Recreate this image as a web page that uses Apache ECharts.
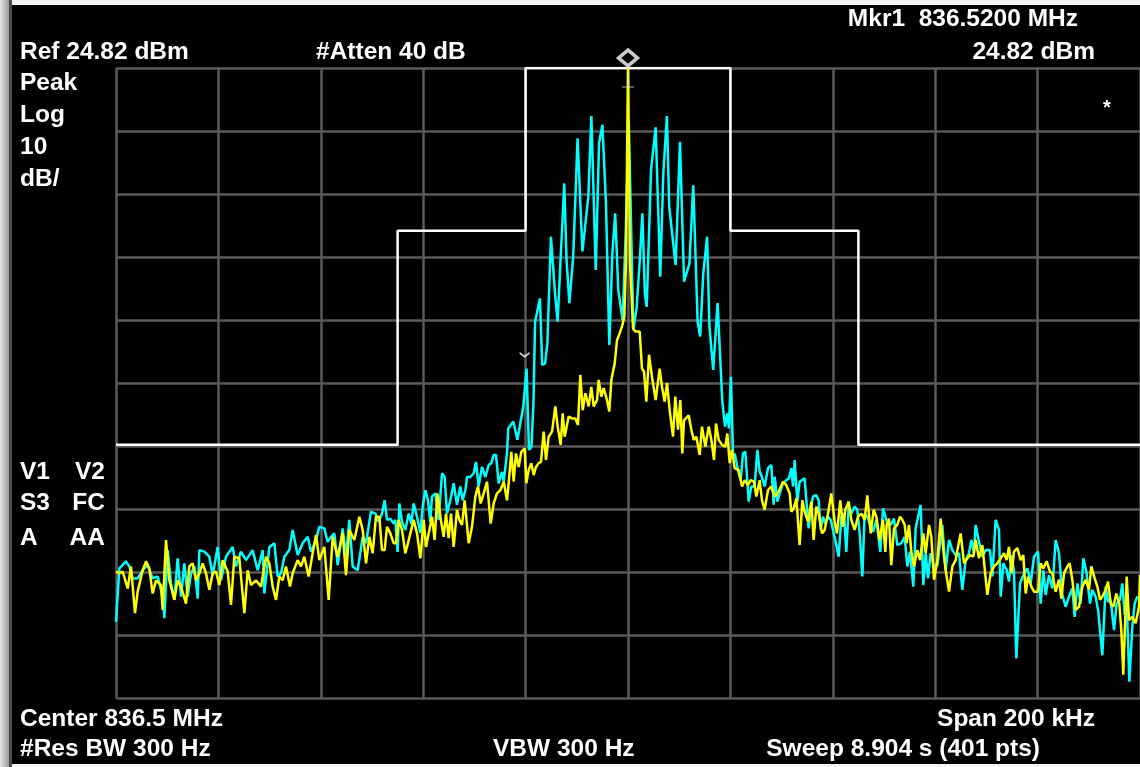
<!DOCTYPE html>
<html>
<head>
<meta charset="utf-8">
<script src="https://cdn.jsdelivr.net/npm/echarts@6/dist/echarts.min.js"></script>
<style>
html,body{margin:0;padding:0;background:#000;}
#chart{width:1140px;height:767px;}
</style>
</head>
<body>
<div id="chart"></div>
<script>
// Frequency offset from centre (kHz) and level (dBm)
var refLevel = 24.82;
var dbPerDiv = 10;
var spanKHz = 200;

var maskFreq = [-100, -45, -45, -20, -20, 20, 20, 45, 45, 100];
var maskLevel = [-35, -35, -1, -1, 24.82, 24.82, -1, -1, -35, -35];

var traceCyan = [
[-100,-63.1],[-99.35,-54.6],[-98.05,-53.5],[-97.4,-54.3],[-96.74,-56.2],[-95.77,-56.2],[-94.79,-54.9],[-93.82,-54.1],[-92.84,-56.2],[-91.86,-55.9],[-90.89,-59.1],[-90.56,-62.5],[-89.91,-51.7],[-89.26,-57.0],[-88.6,-59.6],[-87.96,-53.0],[-87.3,-59.1],[-86.65,-53.8],[-86.0,-59.1],[-85.35,-55.4],[-84.7,-54.3],[-84.05,-59.4],[-83.72,-51.7],[-82.75,-51.95],[-81.77,-52.75],[-81.12,-55.7],[-80.14,-51.2],[-79.49,-56.5],[-78.52,-52.75],[-77.21,-51.2],[-76.56,-54.3],[-75.59,-51.95],[-74.61,-53.3],[-73.31,-51.7],[-72.33,-54.9],[-71.35,-51.7],[-71.03,-58.6],[-70.05,-51.2],[-69.08,-50.6],[-68.42,-55.9],[-67.77,-55.4],[-67.12,-52.75],[-66.15,-51.7],[-65.5,-48.5],[-64.52,-52.5],[-63.54,-50.6],[-62.57,-49.6],[-61.91,-51.95],[-60.94,-50.1],[-60.29,-48.0],[-59.31,-48.25],[-58.66,-50.4],[-58.0,-49.6],[-57.36,-49.05],[-56.7,-54.1],[-55.73,-48.25],[-55.08,-52.75],[-54.43,-46.9],[-53.78,-54.3],[-52.8,-54.9],[-51.82,-49.6],[-51.17,-50.6],[-50.2,-45.6],
[-49.35,-45.9],[-48.7,-47.2],[-48.05,-45.9],[-47.53,-43.8],[-47.07,-46.9],[-46.42,-46.7],[-45.77,-47.5],[-45.44,-46.9],[-44.99,-52.0],[-44.66,-44.3],[-44.14,-47.2],[-43.49,-48.5],[-42.84,-45.9],[-42.32,-47.5],[-41.86,-44.3],[-41.21,-46.4],[-40.56,-49.0],[-40.1,-44.8],[-39.58,-42.2],[-39.06,-43.8],[-38.61,-47.2],[-38.28,-43.2],[-37.63,-42.7],[-36.98,-46.9],[-36.33,-39.5],[-35.81,-40.1],[-35.35,-45.9],[-34.7,-43.8],[-34.05,-41.1],[-33.4,-44.5],[-32.75,-41.6],[-32.29,-43.8],[-31.77,-42.2],[-31.45,-40.1],[-30.79,-40.1],[-30.14,-39.5],[-29.69,-37.7],[-29.17,-41.6],[-28.52,-38.5],[-27.86,-40.1],[-27.21,-38.2],[-26.69,-37.9],[-26.24,-36.6],[-25.78,-36.6],[-25.26,-41.1],[-24.61,-39.3],[-24.28,-40.8],[-23.63,-36.3],
[-23.4,-32.4],[-22.4,-31.3],[-21.6,-34.2],[-20.45,-28.9],[-19.8,-22.9],[-19.35,-35.8],[-18.85,-35.3],[-18.45,-27.9],[-18.15,-15.45],[-17.2,-11.75],[-16.75,-22.3],[-16.2,-22.1],[-15.75,-18.9],[-15.05,-1.96],[-14.25,-10.95],[-13.75,-15.45],[-12.45,6.5],[-12.0,-5.7],[-11.45,-12.5],[-10.7,-5.1],[-9.85,13.65],[-8.9,-4.3],[-7.75,4.4],[-7.15,17.2],[-6.3,-7.25],[-5.65,12.9],[-5.0,15.8],[-4.3,3.3],[-3.65,-19.15],[-3.05,-4.6],[-2.5,1.75],[-1.9,-10.4],[-1.05,-15.2],[-0.45,-1.4],[0.15,16.6],[1.05,-16.8],[1.7,-13.1],[2.35,-5.1],[2.8,1.75],[3.3,-10.95],[3.65,-13.1],[4.5,8.6],[5.4,15.4],[6.3,-8.3],[6.9,8.1],[7.6,17.2],[8.05,2.8],[9.3,-6.45],[10.15,13.1],[10.95,-9.1],[12.0,-6.2],[12.75,6.2],[13.6,-15.45],[14.1,-17.8],[14.7,-7.8],[15.45,-1.96],[15.9,-16.2],[16.65,-23.1],[17.5,-12.5],[18.4,-27.9],[18.95,-32.1],[19.4,-30.0],[19.7,-32.4],[20.1,-24.2],[20.55,-37.4],
[20.83,-36.35],[21.48,-39.0],[22.0,-40.6],[22.46,-36.35],[22.92,-36.1],[23.57,-44.0],[24.09,-41.6],[24.74,-41.6],[25.26,-35.8],[25.72,-39.25],[26.04,-39.8],[26.69,-41.6],[27.34,-38.7],[28.0,-38.2],[28.45,-44.5],[28.65,-40.05],[29.17,-44.0],[29.62,-42.7],[30.27,-41.1],[30.92,-40.6],[31.45,-40.3],[31.9,-38.7],[32.23,-41.6],[32.55,-37.4],[33.07,-44.0],[33.53,-40.85],[33.85,-40.6],[34.5,-40.3],[34.83,-43.8],[35.29,-48.25],[35.68,-45.3],[36.13,-43.2],[36.78,-43.0],[37.24,-43.8],[37.63,-48.5],[38.09,-46.4],[38.54,-47.5],[39.06,-46.4],[39.58,-46.9],[40.04,-48.5],[40.69,-50.9],[41.15,-52.75],[41.67,-46.4],[42.19,-45.9],[42.64,-52.0],[43.1,-44.8],[43.62,-45.9],[44.27,-44.8],[44.79,-45.3],[45.25,-49.05],[45.77,-55.9],[46.22,-45.9],[46.74,-46.4],[47.2,-47.5],[47.85,-48.8],[48.5,-46.9],[49.28,-52.0],[49.8,-45.1],
[50.0,-45.6],[50.65,-47.5],[51.3,-47.7],[51.95,-46.7],[52.6,-50.9],[53.39,-50.6],[54.04,-49.6],[54.56,-54.3],[55.08,-51.95],[55.73,-57.5],[56.18,-48.25],[57.16,-44.55],[57.68,-57.25],[58.14,-52.2],[58.59,-56.2],[59.11,-52.2],[59.77,-54.3],[60.42,-54.1],[61.39,-47.7],[62.04,-54.9],[62.7,-50.1],[63.35,-51.7],[64.0,-52.5],[64.65,-52.2],[65.3,-58.0],[65.95,-53.3],[66.6,-52.2],[67.06,-50.1],[67.58,-52.2],[67.9,-47.7],[68.55,-50.4],[69.21,-52.75],[69.86,-51.7],[70.7,-51.7],[71.16,-55.9],[71.81,-46.9],[72.46,-48.5],[72.79,-59.1],[73.31,-53.8],[73.96,-54.9],[74.41,-56.7],[74.93,-52.5],[75.39,-55.1],[75.85,-68.9],[76.56,-57.0],[77.34,-55.4],[78.0,-54.6],[78.65,-57.0],[79.3,-52.75],[80.08,-51.95],[80.6,-60.2],[81.12,-54.9],[81.58,-58.8],[82.23,-55.7],[82.88,-57.8],[83.53,-50.1],[84.18,-52.2],[84.83,-58.8],[85.48,-60.7],[86.13,-59.1],[86.78,-57.8],[87.24,-62.3],[87.76,-57.0],[88.41,-60.2],[88.93,-53.0],[89.58,-55.4],[90.23,-60.2],[90.69,-58.0],[91.34,-59.1],[91.86,-61.5],[92.64,-68.4],[93.29,-57.5],[93.75,-59.9],[94.27,-59.6],[94.92,-64.4],[95.44,-60.2],[96.09,-59.6],[96.55,-57.0],[97.01,-62.0],[97.4,-59.9],[97.92,-72.6],[98.5,-63.9],[98.96,-60.2],[99.48,-59.1],[100,-59.6]
];

var traceYellow = [
[-100,-55.1],[-99.35,-55.4],[-98.7,-55.1],[-97.72,-57.8],[-97.07,-54.3],[-96.29,-61.7],[-95.77,-58.3],[-94.79,-54.9],[-94.14,-53.5],[-93.49,-54.6],[-92.84,-58.6],[-92.19,-56.5],[-91.21,-57.25],[-90.89,-61.2],[-90.23,-50.1],[-89.58,-56.5],[-88.61,-59.6],[-87.96,-56.5],[-87.3,-57.5],[-86.33,-60.2],[-85.68,-54.3],[-85.03,-53.8],[-84.37,-56.5],[-83.72,-55.4],[-83.07,-53.8],[-82.42,-55.4],[-81.77,-58.0],[-81.12,-55.4],[-80.47,-55.1],[-79.82,-57.25],[-79.17,-53.3],[-78.19,-55.1],[-77.54,-60.4],[-76.89,-52.75],[-75.91,-53.0],[-74.93,-61.7],[-74.28,-54.9],[-73.63,-57.25],[-72.66,-56.5],[-71.68,-57.5],[-70.7,-52.75],[-70.05,-53.8],[-69.4,-57.5],[-68.75,-59.6],[-68.1,-55.9],[-67.45,-56.5],[-66.8,-54.3],[-66.02,-57.5],[-65.5,-55.4],[-64.52,-53.3],[-63.87,-54.3],[-63.22,-52.75],[-62.37,-55.9],[-61.59,-52.2],[-60.94,-49.3],[-60.29,-53.3],[-59.31,-51.2],[-58.46,-59.6],[-57.68,-49.6],[-56.71,-52.75],[-55.73,-49.0],[-55.08,-55.7],[-54.43,-48.5],[-53.45,-50.1],[-52.47,-46.4],[-51.82,-48.5],[-51.17,-53.8],[-50.52,-49.6],
[-49.87,-52.2],[-49.22,-46.4],[-48.57,-46.4],[-48.05,-51.7],[-47.53,-51.7],[-47.07,-48.0],[-46.42,-49.05],[-45.77,-50.6],[-45.31,-50.6],[-44.79,-46.9],[-44.14,-48.5],[-43.49,-52.2],[-42.97,-50.6],[-42.51,-49.05],[-41.86,-46.9],[-41.21,-49.05],[-40.56,-53.0],[-39.91,-46.9],[-39.45,-51.2],[-38.93,-49.05],[-38.28,-46.4],[-37.76,-50.1],[-37.24,-42.7],[-36.65,-46.4],[-36.0,-49.6],[-35.55,-45.9],[-35.03,-49.8],[-34.57,-45.9],[-34.05,-51.2],[-33.4,-45.3],[-32.94,-46.9],[-32.42,-47.7],[-31.9,-43.8],[-31.12,-50.6],[-30.47,-48.0],[-29.82,-43.2],[-29.3,-41.6],[-28.78,-44.3],[-28.19,-42.7],[-27.54,-40.85],[-26.82,-47.5],[-26.24,-44.3],[-25.59,-42.7],[-24.93,-42.2],[-24.28,-40.85],[-23.63,-43.8],[-23.31,-41.1],[-22.79,-36.1],[-22.33,-40.85],[-21.88,-36.35],[-21.35,-38.5],[-20.83,-36.1],[-20.18,-35.55],[-19.86,-41.1],[-19.4,-39.0],[-18.88,-37.9],[-18.42,-39.8],[-17.97,-38.5],[-17.45,-37.9],[-16.99,-37.7],[-16.47,-32.9],[-16.02,-37.4],[-15.49,-33.7],[-14.84,-32.9],[-14.19,-28.9],[-13.74,-32.1],[-13.15,-35.0],[-12.76,-30.0],[-12.37,-33.7],[-11.59,-30.5],[-10.94,-30.8],[-10.29,-30.8],[-9.77,-31.85],[-9.31,-23.9],[-8.85,-29.5],[-8.33,-26.8],[-7.68,-28.9],[-7.16,-25.8],[-6.71,-28.9],[-6.05,-27.9],[-5.73,-24.7],[-5.21,-27.35],[-4.75,-26.0],[-4.1,-27.9],[-3.65,-29.7],[-3.26,-24.7],[-2.6,-22.1],[-2.15,-18.4],[-1.63,-17.3],[-1.17,-16.2],[-0.72,-14.7],
[-0.4,-6],[0,24.82],[0.4,-6],
[0.98,-16.5],[1.43,-17.0],[2.28,-17.0],[2.73,-22.9],[3.13,-23.4],[3.58,-28.15],[4.1,-20.7],[4.69,-24.2],[5.4,-27.9],[6.18,-22.9],[6.64,-25.8],[7.16,-28.15],[7.62,-25.2],[8.14,-29.5],[8.79,-33.7],[9.24,-27.35],[9.77,-32.6],[10.22,-27.9],[10.61,-36.35],[10.94,-31.1],[11.85,-30.3],[12.37,-32.6],[12.83,-34.2],[13.35,-33.7],[14.0,-36.6],[14.45,-32.1],[15.1,-35.3],[15.76,-32.1],[16.28,-34.2],[16.8,-37.4],[17.19,-31.6],[17.71,-34.2],[18.36,-35.0],[19.01,-35.3],[19.4,-33.2],[19.86,-37.9],[20.31,-35.8],[20.83,-38.7],[21.61,-39.0],[22.27,-41.6],[22.79,-40.6],[23.44,-41.4],[23.96,-40.6],[24.61,-40.85],[25.07,-43.2],[25.72,-40.6],[26.17,-43.8],[26.69,-45.3],[27.34,-42.2],[28.0,-41.6],[28.65,-43.2],[29.43,-42.4],[30.27,-40.85],[30.92,-41.4],[31.58,-42.7],[31.9,-45.6],[32.36,-45.1],[32.88,-43.5],[33.53,-50.9],[34.05,-43.8],[34.5,-45.6],[35.16,-47.2],[35.81,-44.0],[36.26,-50.1],[36.78,-44.8],[37.24,-45.9],[37.89,-49.05],[38.41,-48.5],[39.06,-45.9],[39.71,-42.7],[40.36,-47.2],[40.82,-49.05],[41.47,-43.8],[41.99,-48.0],[42.45,-45.3],[43.1,-44.0],[43.62,-46.9],[44.27,-48.5],[44.92,-46.4],[45.57,-45.9],[46.22,-46.9],[46.74,-43.0],[47.4,-49.05],[47.98,-45.3],[48.5,-46.4],[49.15,-50.1],[49.8,-46.9],[50.26,-52.0],
[50.52,-47.7],[50.98,-46.7],[51.43,-54.1],[51.95,-48.25],[52.6,-47.7],[53.13,-46.4],[53.58,-46.9],[54.04,-47.7],[54.43,-50.6],[54.88,-47.7],[55.34,-51.95],[55.86,-54.3],[56.51,-51.7],[57.03,-53.3],[57.68,-49.05],[58.14,-52.2],[58.79,-47.7],[59.24,-49.6],[59.77,-56.4],[60.42,-53.3],[61.07,-46.7],[61.59,-51.7],[62.04,-54.9],[62.7,-58.3],[63.35,-54.3],[64.0,-53.3],[64.45,-51.2],[64.97,-49.05],[65.63,-53.8],[66.28,-53.0],[66.8,-52.5],[67.45,-52.75],[67.9,-50.1],[68.55,-53.0],[69.21,-50.9],[70.18,-58.8],[70.83,-55.4],[71.48,-54.3],[72.14,-53.8],[72.79,-53.0],[73.44,-52.2],[73.96,-53.3],[74.41,-51.2],[74.93,-55.4],[75.39,-51.95],[76.04,-51.4],[76.69,-53.3],[77.21,-52.5],[77.67,-58.6],[78.13,-55.9],[78.78,-57.5],[79.3,-58.3],[80.08,-58.3],[80.6,-53.8],[81.12,-54.6],[81.77,-53.5],[82.42,-55.1],[82.88,-55.4],[83.53,-58.3],[84.18,-56.4],[84.64,-59.4],[85.16,-55.4],[85.81,-54.3],[86.26,-53.8],[86.78,-56.4],[87.43,-61.2],[88.09,-60.7],[88.74,-57.5],[89.39,-56.4],[90.04,-58.0],[90.49,-54.3],[91.15,-56.2],[91.67,-57.5],[92.19,-59.6],[92.64,-59.1],[93.29,-58.0],[93.75,-56.7],[94.27,-60.2],[94.79,-60.7],[95.38,-58.6],[95.96,-60.2],[96.35,-64.4],[96.74,-71.5],[97.4,-55.9],[97.85,-62.8],[98.5,-62.3],[99.15,-63.3],[99.8,-60.7],[100,-55.6]
];

// Marker positions (kHz, dBm)
var marker1 = [0, 24.82];
var deltaMark = [-20.2, -20.7];

var headerTexts = {
  ref: 'Ref 24.82 dBm', atten: '#Atten 40 dB', mkr: 'Mkr1  836.5200 MHz', mkrVal: '24.82 dBm',
  side: ['Peak', 'Log', '10', 'dB/'],
  center: 'Center 836.5 MHz', span: 'Span 200 kHz', rbw: '#Res BW 300 Hz', vbw: 'VBW 300 Hz', sweep: 'Sweep 8.904 s (401 pts)'
};

var maskData = maskFreq.map(function (f, i) { return [f, maskLevel[i]]; });
var FONT = 'bold 24.5px "Liberation Sans", Arial, sans-serif';

function txt(t, x, y, align, font) {
  return { type: 'text', z: 100, style: { text: t, x: x, y: y, fill: '#ffffff', font: font || FONT, textAlign: align || 'left', textVerticalAlign: 'middle' } };
}

var chart = echarts.init(document.getElementById('chart'), null, { renderer: 'canvas' });
var option = {
  backgroundColor: '#000000',
  animation: false,
  grid: { left: 116, top: 68, width: 1024, height: 630, containLabel: false },
  xAxis: {
    type: 'value', min: -spanKHz / 2, max: spanKHz / 2, interval: 20,
    axisLine: { show: false }, axisTick: { show: false }, axisLabel: { show: false },
    splitLine: { show: true, lineStyle: { color: '#5a5a5a', width: 2.5 } }
  },
  yAxis: [
    { type: 'value', min: refLevel - 10 * dbPerDiv, max: refLevel, show: false, splitLine: { show: false } },
    { type: 'value', min: 0, max: 10, interval: 1, position: 'left',
      axisLine: { show: false }, axisTick: { show: false }, axisLabel: { show: false },
      splitLine: { show: true, lineStyle: { color: '#5a5a5a', width: 2.5 } } }
  ],
  series: [
    { type: 'line', data: maskData, yAxisIndex: 0, showSymbol: false, lineStyle: { color: '#ffffff', width: 2.5 }, z: 3, silent: true },
    { type: 'line', data: traceCyan, yAxisIndex: 0, showSymbol: false, lineStyle: { color: '#00ffff', width: 2.5 }, z: 4, silent: true },
    { type: 'line', data: traceYellow, yAxisIndex: 0, showSymbol: false, lineStyle: { color: '#ffff00', width: 2.5 }, z: 5, silent: true },
    { type: 'scatter', data: [marker1], yAxisIndex: 0, symbol: 'diamond', symbolSize: [19, 16], symbolOffset: [0, -10],
      itemStyle: { color: '#000000', borderColor: '#ffffff', borderWidth: 3.5 }, z: 10, silent: true },
    { type: 'scatter', data: [marker1], yAxisIndex: 0, symbol: 'path://M4.5,0h1.2v9h-1.2z M0,9h10.2v1.2h-10.2z', symbolSize: [12, 9], symbolOffset: [0, 15],
      itemStyle: { color: '#dddddd' }, z: 10, silent: true },
    { type: 'scatter', data: [deltaMark], yAxisIndex: 0, symbol: 'path://M0,0 L4,3 L8,0 L8,1.8 L4,4.8 L0,1.8 Z', symbolSize: [10, 6],
      itemStyle: { color: '#ffffff' }, z: 10, silent: true }
  ],
  graphic: [
    { type: 'rect', z: 90, shape: { x: 0, y: 0, width: 1140, height: 5 }, style: { fill: '#f4f4f4' } },
    { type: 'rect', z: 90, shape: { x: 0, y: 764, width: 1140, height: 3 }, style: { fill: '#f4f4f4' } },
    { type: 'rect', z: 91, shape: { x: 0, y: 0, width: 9, height: 767 },
      style: { fill: new echarts.graphic.LinearGradient(0, 0, 1, 0, [{ offset: 0, color: '#e6e6e6' }, { offset: 1, color: '#9a9a9a' }]) } },
    { type: 'rect', z: 91, shape: { x: 9, y: 0, width: 3, height: 767 }, style: { fill: '#4a4a4a' } },
    txt(headerTexts.ref, 20, 52),
    txt(headerTexts.atten, 316, 52),
    txt(headerTexts.mkr, 1078, 19, 'right'),
    txt(headerTexts.mkrVal, 1095, 52, 'right'),
    txt(headerTexts.side[0], 20, 83),
    txt(headerTexts.side[1], 20, 115),
    txt(headerTexts.side[2], 20, 147),
    txt(headerTexts.side[3], 20, 179),
    txt('V1', 20, 472), txt('V2', 105, 472, 'right'),
    txt('S3', 20, 503), txt('FC', 105, 503, 'right'),
    txt('A', 20, 538), txt('AA', 105, 538, 'right'),
    txt('*', 1107, 108, 'center', 'bold 20px "Liberation Sans", Arial, sans-serif'),
    txt(headerTexts.center, 20, 719),
    txt(headerTexts.span, 1095, 719, 'right'),
    txt(headerTexts.rbw, 20, 749),
    txt(headerTexts.vbw, 493, 749),
    txt(headerTexts.sweep, 1040, 749, 'right')
  ]
};
chart.setOption(option);
</script>
</body>
</html>
